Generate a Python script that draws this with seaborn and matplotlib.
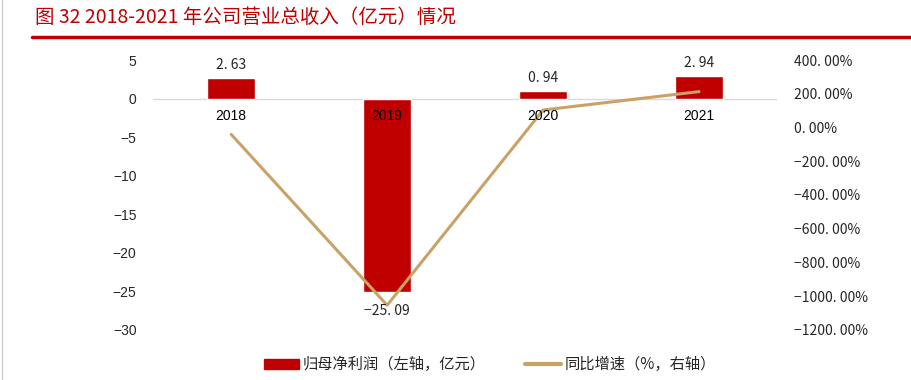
import numpy as np
import pandas as pd
import matplotlib
matplotlib.use('Agg')
import matplotlib.pyplot as plt
import seaborn as sns
from matplotlib.lines import Line2D
from matplotlib.patches import Patch

# data
years = ['2018', '2019', '2020', '2021']
net_profit = [2.63, -25.09, 0.94, 2.94]          # 亿元, left axis
growth = [-41.0, -1054.0, 103.7, 212.8]          # %, right axis
left_ticks = [5, 0, -5, -10, -15, -20, -25, -30]
right_ticks = [400, 200, 0, -200, -400, -600, -800, -1000, -1200]

red = '#C00000'
gold = '#C9A266'

sns.set_theme(style='white')
plt.rcParams['font.family'] = ['Liberation Sans', 'Noto Sans CJK SC', 'DejaVu Sans']
cjk = ['Noto Sans CJK SC', 'DejaVu Sans']

df = pd.DataFrame({'year': years, 'profit': net_profit, 'growth': growth})

fig = plt.figure(figsize=(9.12, 3.8), dpi=100)
ax = fig.add_axes([0.168, 0.132, 0.684, 0.710])

sns.barplot(data=df, x='year', y='profit', color=red, width=0.31,
            saturation=1, ax=ax)
ax.set_ylim(-30, 5)
ax.set_xlim(-0.5, 3.5)
ax.axhline(0, color='#d9d9d9', lw=1, zorder=0.5)
ax.set_yticks(left_ticks)
ax.set_yticklabels([str(t).replace('-', '\u2212') for t in left_ticks], fontsize=10)
ax.tick_params(axis='y', length=0, pad=12)
ax.set_xticks([])
ax.set_xlabel('')
ax.set_ylabel('')
for s in ax.spines.values():
    s.set_visible(False)

# growth line on the right axis, drawn over the bars
ax2 = ax.twinx()
sns.lineplot(x=np.arange(len(years)), y=growth, color=gold, lw=2.2, ax=ax2)
ax2.set_ylim(-1200, 400)
ax2.set_xlim(-0.5, 3.5)
ax2.set_yticks(right_ticks)
ax2.set_yticklabels([f'{t:.2f}%'.replace('-', '\u2212').replace('.', '. ')
                     for t in right_ticks], fontsize=10, family=cjk)
ax2.tick_params(axis='y', length=0, pad=12)
for s in ax2.spines.values():
    s.set_visible(False)

# category labels sit just under the zero line (on top of everything)
for i, y in enumerate(years):
    ax2.text(i, -1.3, y, ha='center', va='top', fontsize=10, color='black',
             zorder=5, transform=ax.transData)

# value labels
for i, v in enumerate(net_profit):
    if v >= 0:
        ax2.text(i, v + 0.8, f'{v:.2f}'.replace('.', '. '), ha='center',
                 va='bottom', fontsize=10, family=cjk, transform=ax.transData)
    else:
        ax2.text(i, v - 1.6, f'{v:.2f}'.replace('-', '\u2212').replace('.', '. '),
                 ha='center', va='top', fontsize=10, family=cjk,
                 transform=ax.transData)

# title and rule
fig.text(0.038, 0.955, '图 32 2018-2021 年公司营业总收入（亿元）情况', color=red,
         fontsize=14, family=cjk, ha='left', va='center')
fig.add_artist(Line2D([0.035, 1.0], [0.902, 0.902], color=red, lw=2.5,
                      transform=fig.transFigure))
fig.add_artist(Line2D([0.002, 0.002], [0.0, 1.0], color='#cccccc', lw=1,
                      transform=fig.transFigure))

handles = [Patch(color=red), Line2D([0], [0], color=gold, lw=3)]
labels = ['归母净利润（左轴，亿元）', '同比增速（%，右轴）']
fig.legend(handles, labels, loc='center', bbox_to_anchor=(0.537, 0.04), ncol=2,
           frameon=False, prop={'family': cjk, 'size': 11}, columnspacing=2.6,
           handlelength=2.3, handleheight=0.6, handletextpad=0.25)

fig.savefig('out.png', dpi=100)
